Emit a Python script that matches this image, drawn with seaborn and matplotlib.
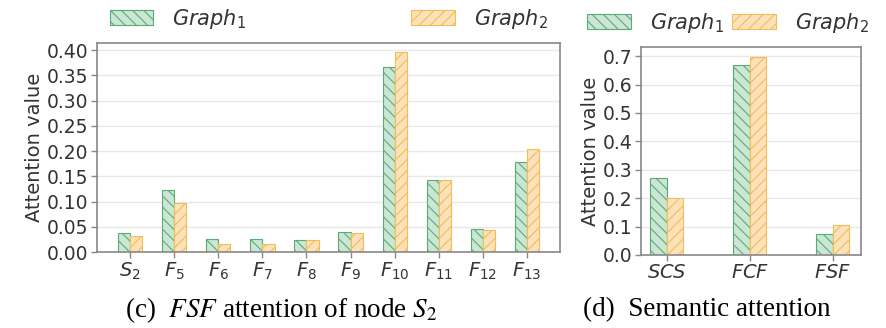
import matplotlib
matplotlib.use("Agg")
import matplotlib.pyplot as plt
import seaborn as sns
import pandas as pd
from matplotlib.patches import Patch

# ---- data ----
nodes = ["$S_2$", "$F_5$", "$F_6$", "$F_7$", "$F_8$", "$F_9$", "$F_{10}$", "$F_{11}$", "$F_{12}$", "$F_{13}$"]
node_g1 = [0.038, 0.122, 0.025, 0.025, 0.024, 0.039, 0.366, 0.142, 0.045, 0.179]
node_g2 = [0.031, 0.097, 0.016, 0.016, 0.023, 0.037, 0.396, 0.143, 0.043, 0.204]

meta = ["$SCS$", "$FCF$", "$FSF$"]
meta_g1 = [0.272, 0.670, 0.073]
meta_g2 = [0.200, 0.698, 0.106]

series = ["$Graph_1$", "$Graph_2$"]
left_ticks = [0.00, 0.05, 0.10, 0.15, 0.20, 0.25, 0.30, 0.35, 0.40]
right_ticks = [0.0, 0.1, 0.2, 0.3, 0.4, 0.5, 0.6, 0.7]

# ---- style ----
sns.set_theme(style="whitegrid")
plt.rcParams["font.family"] = ["DejaVu Sans"]
plt.rcParams["hatch.linewidth"] = 0.8

face = {series[0]: "#cbe6d3", series[1]: "#fde1ba"}
edge = {series[0]: "#5aab79", series[1]: "#efbf55"}
hatch = {series[0]: "\\\\\\", series[1]: "///"}
txt = "#333333"
spine_c = "#888888"

df_l = pd.DataFrame({"node": nodes * 2, "val": node_g1 + node_g2,
                     "graph": [series[0]] * len(nodes) + [series[1]] * len(nodes)})
df_r = pd.DataFrame({"node": meta * 2, "val": meta_g1 + meta_g2,
                     "graph": [series[0]] * len(meta) + [series[1]] * len(meta)})

fig = plt.figure(figsize=(8.87, 3.28), dpi=100)
axL = fig.add_axes([0.1094, 0.2317, 0.522, 0.637])
axR = fig.add_axes([0.7227, 0.2226, 0.248, 0.634])


def style_bars(ax):
    for cont, s in zip(ax.containers, series):
        for p in cont:
            p.set_facecolor(face[s])
            p.set_edgecolor(edge[s])
            p.set_hatch(hatch[s])
            p.set_linewidth(0.8)


def style_axes(ax, ticks, ylim, xlim):
    ax.set_ylim(*ylim)
    ax.set_xlim(*xlim)
    ax.set_yticks(ticks)
    ax.grid(axis="y", color="#e8e8e8", linewidth=1.0)
    ax.grid(axis="x", visible=False)
    for sp in ax.spines.values():
        sp.set_visible(True)
        sp.set_color(spine_c)
        sp.set_linewidth(1.2)
    ax.tick_params(axis="y", labelsize=13.5, colors=txt, length=4, width=1, color=spine_c,
                   left=True, pad=2)
    ax.tick_params(axis="x", labelsize=14, colors=txt, length=4, width=1, color=spine_c,
                   bottom=True, pad=2)
    ax.set_xlabel("")
    ax.set_ylabel("Attention value", fontsize=14, color=txt, labelpad=2)


sns.barplot(data=df_l, x="node", y="val", hue="graph", ax=axL, width=0.55,
            legend=False, saturation=1)
style_bars(axL)
style_axes(axL, left_ticks, (0, 0.414), (-0.75, 9.75))
axL.set_yticklabels([f"{t:.2f}" for t in left_ticks])

sns.barplot(data=df_r, x="node", y="val", hue="graph", ax=axR, width=0.4,
            legend=False, saturation=1)
style_bars(axR)
style_axes(axR, right_ticks, (0, 0.732), (-0.31, 2.34))
axR.set_yticklabels([f"{t:.1f}" for t in right_ticks])

handles = [Patch(facecolor=face[s], edgecolor=edge[s], hatch=hatch[s], linewidth=0.8) for s in series]

axL.legend(handles, series, loc="lower left", bbox_to_anchor=(0.0, 1.0, 1.0, 0.12),
           mode="expand", ncol=2, frameon=False, fontsize=15, handlelength=2.1,
           handleheight=0.7, borderaxespad=0.2, handletextpad=0.9, labelcolor=txt)
axR.legend(handles, series, loc="lower center", bbox_to_anchor=(0.395, 1.0),
           ncol=2, frameon=False, fontsize=15, handlelength=2.1, handleheight=0.7,
           borderaxespad=0.2, handletextpad=0.9, columnspacing=0.4, labelcolor=txt)

cap_kw = dict(fontsize=19.5, family="Liberation Serif", math_fontfamily="stix",
              color="black", ha="center", va="center")
fig.text(281 / 887, 0.055, "(c)  $FSF$ attention of node $S_2$", **cap_kw)
fig.text(707 / 887, 0.055, "(d)  Semantic attention", **cap_kw)

fig.savefig("out.png", dpi=100)
